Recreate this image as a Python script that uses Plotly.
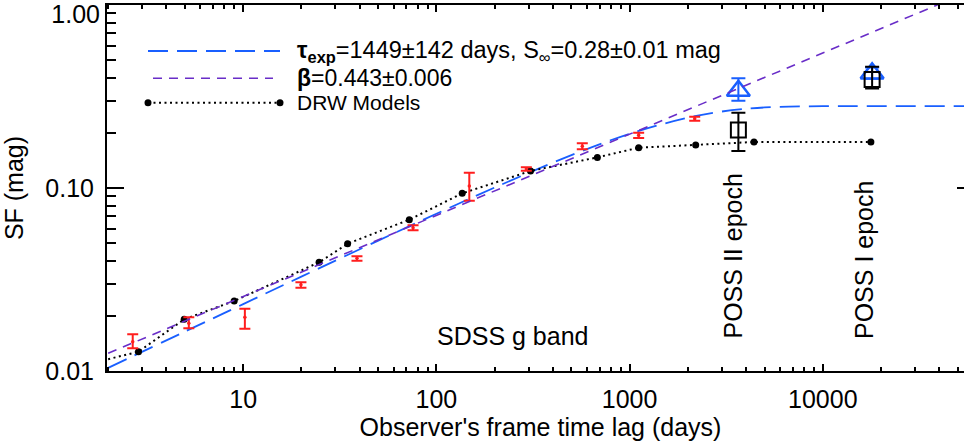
import numpy as np
import plotly.graph_objects as go

# ---------------- data ----------------
# SDSS g-band structure function (red error bars)
sdss_lag = [2.68, 5.23, 10.2, 19.9, 38.8, 75.7, 148, 292, 569, 1114, 2173]
sdss_sf = [0.01445, 0.01823, 0.01965, 0.02963, 0.04126, 0.0607, 0.1025, 0.127, 0.169, 0.194, 0.239]
sdss_sf_hi = [0.01587, 0.01965, 0.0219, 0.0305, 0.04233, 0.0625, 0.1213, 0.1298, 0.1754, 0.2005, 0.2453]
sdss_sf_lo = [0.0133, 0.0171, 0.01702, 0.0285, 0.04005, 0.0587, 0.0852, 0.1243, 0.1627, 0.1876, 0.2332]

# DRW model points (black dots, dotted line)
drw_lag = [2.87, 4.95, 8.98, 24.7, 34.7, 72.4, 136, 307, 681, 1114, 2198, 4403, 17740]
drw_sf = [0.01275, 0.01916, 0.02413, 0.03926, 0.0496, 0.0671, 0.0935, 0.1239, 0.147, 0.166, 0.1717, 0.1784, 0.1784]
drw_line_start_lag = [2.0]
drw_line_start_sf = [0.0116]

# Exponential (DRW) fit curve, blue long dashes
fit_lag = [2, 5, 10, 20, 50, 100, 200, 500, 1000, 2000, 3000, 5000, 10000, 20000, 60000]
fit_sf = [0.0104, 0.01643, 0.0232, 0.0328, 0.0516, 0.0723, 0.1005, 0.1513, 0.1977, 0.2422,
          0.2617, 0.2755, 0.2799, 0.28, 0.28]

# Power-law fit, purple short dashes
pl_lag = [2, 60000]
pl_sf = [0.0125, 1.21]

# POSS epochs
poss_lag = [3656, 18000]
poss_blue_sf = [0.340, 0.423]
poss_blue_hi = [0.3977, 0.455]
poss_blue_lo = [0.2999, 0.395]
poss_black_sf = [0.2074, 0.392]
poss_black_hi = [0.258, 0.46]
poss_black_lo = [0.1592, 0.35]
poss_names = ["POSS II epoch", "POSS I epoch"]

x_ticks = [10, 100, 1000, 10000]
x_tick_text = ["10", "100", "1000", "10000"]
y_ticks = [0.01, 0.1]
y_tick_text = ["0.01", "0.10"]
y_top_tick = [1.0]
y_top_tick_text = ["1.00"]

# ---------------- styling ----------------
RED = "rgb(255,30,30)"
BLUE = "rgb(25,95,255)"
PURPLE = "rgb(105,45,200)"
FONT = "Liberation Sans, Arial, Helvetica, sans-serif"

# The plot frame continues a little past the right edge of the 964 px window (as in the reference)
L, R, T, B = 107, 2, 5, 75
W, H = 976, 446
PW, PH = W - L - R, H - T - B
X_RANGE = [0.295, 0.295 + PW / 193.2]


def px(xp):
    return (xp - L) / PW


def py(yp):
    return (H - B - yp) / PH


fig = go.Figure()

# power law (on overlay axis y2, same range)
fig.add_trace(go.Scatter(x=pl_lag, y=pl_sf, mode="lines", yaxis="y2",
                         line=dict(color=PURPLE, width=1.6, dash="9px,7px"),
                         hoverinfo="skip"))
# exponential fit
fig.add_trace(go.Scatter(x=fit_lag, y=fit_sf, mode="lines", line_shape="spline",
                         line=dict(color=BLUE, width=1.8, dash="20px,9px"), hoverinfo="skip"))
# DRW models dotted line + dots
fig.add_trace(go.Scatter(x=drw_line_start_lag + drw_lag, y=drw_line_start_sf + drw_sf, mode="lines",
                         line=dict(color="black", width=2, dash="2px,3.5px")))
fig.add_trace(go.Scatter(x=drw_lag, y=drw_sf, mode="markers",
                         marker=dict(color="black", size=7)))

# SDSS points
sdss_plus = [h - v for h, v in zip(sdss_sf_hi, sdss_sf)]
sdss_minus = [v - l for v, l in zip(sdss_sf, sdss_sf_lo)]
fig.add_trace(go.Scatter(x=sdss_lag, y=sdss_sf, mode="markers",
                         marker=dict(color=RED, size=3.5),
                         error_y=dict(type="data", symmetric=False, array=sdss_plus, arrayminus=sdss_minus,
                                      color=RED, thickness=2, width=5.5)))

# POSS blue triangles
bp = [h - v for h, v in zip(poss_blue_hi, poss_blue_sf)]
bm = [v - l for v, l in zip(poss_blue_sf, poss_blue_lo)]
fig.add_trace(go.Scatter(x=poss_lag, y=poss_blue_sf, mode="markers",
                         marker=dict(symbol="triangle-up-open", size=20, color=BLUE, line=dict(width=2.5, color=BLUE)),
                         error_y=dict(type="data", symmetric=False, array=bp, arrayminus=bm,
                                      color=BLUE, thickness=2, width=7)))
# POSS black squares
kp = [h - v for h, v in zip(poss_black_hi, poss_black_sf)]
km = [v - l for v, l in zip(poss_black_sf, poss_black_lo)]
fig.add_trace(go.Scatter(x=poss_lag, y=poss_black_sf, mode="markers",
                         marker=dict(symbol="square-open", size=15, color="black", line=dict(width=2, color="black")),
                         error_y=dict(type="data", symmetric=False, array=kp, arrayminus=km,
                                      color="black", thickness=2, width=7)))

# minor tick values
x_minor = [m * 10 ** k for k in range(0, 5) for m in range(2, 10) if 2 <= m * 10 ** k <= 60000]
y_minor = [m * 10 ** k for k in (-2, -1) for m in range(2, 10)]

axis_common = dict(showgrid=False, zeroline=False, showline=True, linecolor="black", linewidth=2,
                   ticks="inside", tickcolor="black", tickwidth=1.5, mirror="ticks", automargin=False,
                   tickfont=dict(family=FONT, size=25, color="black"))

fig.update_layout(
    width=W, height=H,
    margin=dict(l=L, r=R, t=T, b=B, autoexpand=False),
    plot_bgcolor="white", paper_bgcolor="white",
    showlegend=False,
    font=dict(family=FONT, size=25, color="black"),
    xaxis=dict(type="log", range=X_RANGE, tickmode="array", tickvals=x_ticks, ticktext=x_tick_text,
               ticklen=7, ticklabelstandoff=5,
               minor=dict(tickmode="array", tickvals=x_minor, ticks="inside", ticklen=4, tickwidth=1.5,
                          tickcolor="black", showgrid=False),
               title=dict(text="Observer's frame time lag (days)", standoff=2,
                          font=dict(family=FONT, size=25)),
               **axis_common),
    yaxis=dict(type="log", range=[-2, 0], tickmode="array", tickvals=y_ticks, ticktext=y_tick_text,
               ticklen=17, ticklabelstandoff=6,
               minor=dict(tickmode="array", tickvals=y_minor, ticks="inside", ticklen=9, tickwidth=1.5,
                          tickcolor="black", showgrid=False),
               title=dict(text="SF (mag)", standoff=20, font=dict(family=FONT, size=25)),
               **axis_common),
    yaxis2=dict(type="log", range=[-2, 0], overlaying="y", side="left", tickmode="array",
                tickvals=y_top_tick, ticktext=y_top_tick_text, ticks="", showline=False, showgrid=False,
                zeroline=False, automargin=False, ticklabelstandoff=6, ticklabelshift=9,
                ticklabeloverflow="allow",
                tickfont=dict(family=FONT, size=25, color="black")),
)

# ---------------- legend (drawn manually, IDL style) ----------------
leg_y = [py(51), py(78.3), py(102.7)]
fig.add_shape(type="line", xref="paper", yref="paper", x0=px(148), x1=px(280), y0=leg_y[0], y1=leg_y[0],
              line=dict(color=BLUE, width=1.8, dash="20px,9px"))
fig.add_shape(type="line", xref="paper", yref="paper", x0=px(153), x1=px(273), y0=leg_y[1], y1=leg_y[1],
              line=dict(color=PURPLE, width=1.6, dash="9px,7px"))
fig.add_shape(type="line", xref="paper", yref="paper", x0=px(148), x1=px(280), y0=leg_y[2], y1=leg_y[2],
              line=dict(color="black", width=2, dash="2px,3.5px"))
for xe in (148, 280):
    fig.add_shape(type="circle", xref="paper", yref="paper", xsizemode="pixel", ysizemode="pixel",
                  xanchor=px(xe), yanchor=leg_y[2], x0=-3.5, x1=3.5, y0=-3.5, y1=3.5,
                  fillcolor="black", line=dict(color="black", width=0))

leg_text = [
    "<b>τ</b><sub><b>exp</b></sub>=1449±142 days, S<sub>∞</sub>=0.28±0.01 mag",
    "<b>β</b>=0.443±0.006",
    "DRW Models",
]
leg_size = [23.5, 23, 21]
for t, yy, fs in zip(leg_text, leg_y, leg_size):
    fig.add_annotation(text=t, xref="paper", yref="paper", x=px(295), y=yy, xanchor="left", yanchor="middle",
                       showarrow=False, font=dict(family=FONT, size=fs, color="black"))

# ---------------- other labels ----------------
fig.add_annotation(text="SDSS g band", xref="paper", yref="paper", x=px(435), y=py(336), xanchor="left",
                   yanchor="middle", showarrow=False, font=dict(family=FONT, size=25, color="black"))
for name, xl in zip(poss_names, (732, 864)):
    fig.add_annotation(text=name, xref="paper", yref="paper", x=px(xl), y=py(341), xanchor="center",
                       yanchor="bottom", textangle=-90, showarrow=False,
                       font=dict(family=FONT, size=25, color="black"))

fig.write_html("out.html", config={"displayModeBar": False},
               post_script="document.body.style.margin='0px';document.body.style.overflow='hidden';")
